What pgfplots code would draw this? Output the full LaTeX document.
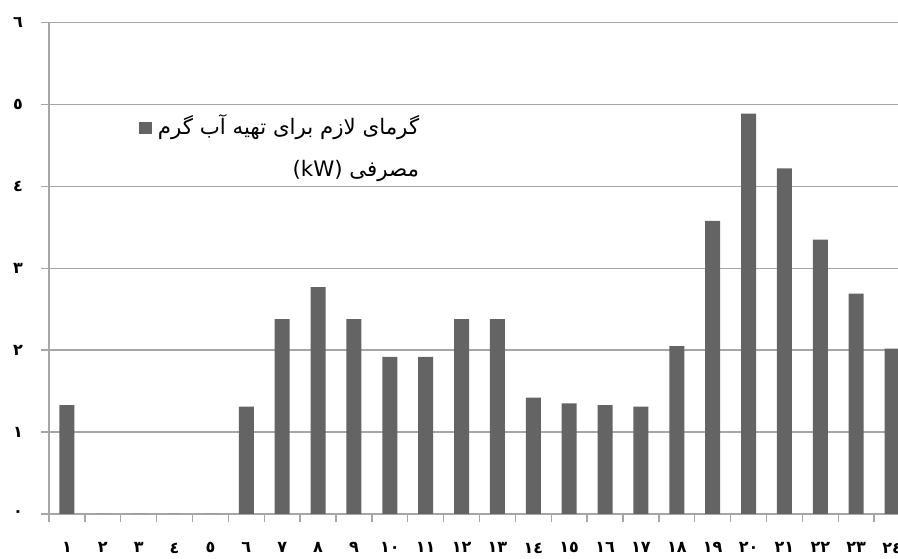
\documentclass[border=0pt]{standalone}
\usepackage{fontspec}
\usepackage{pgfplots}
\pgfplotsset{compat=1.18}
\TeXXeTstate=1
\newfontfamily\arabicfont[Script=Arabic]{DejaVu Sans}
\definecolor{barfill}{HTML}{646464}
\definecolor{gridgray}{HTML}{A6A6A6}

% hourly heat demand for domestic hot water (kW)
\pgfplotstableread{
hour demand
1  1.33
2  0
3  0
4  0
5  0
6  1.31
7  2.38
8  2.77
9  2.38
10 1.92
11 1.92
12 2.38
13 2.38
14 1.42
15 1.35
16 1.33
17 1.31
18 2.05
19 3.58
20 4.89
21 4.22
22 3.35
23 2.69
24 2.02
}\demandtable

\begin{document}
\begin{tikzpicture}[x=0.75pt,y=0.75pt]
\useasboundingbox (0,0) rectangle (898,559);
\clip (0,0) rectangle (898,559);
\begin{axis}[
  at={(36.75pt,33.75pt)}, anchor=south west,
  scale only axis, width=645.75pt, height=368.5pt,
  xmin=0.5, xmax=24.5, ymin=0, ymax=6,
  ybar, bar width=0.42,
  axis lines*=left,
  axis line style={gridgray, line width=1.2pt},
  ymajorgrids, grid style={gridgray, line width=1.2pt},
  tick align=outside,
  xtick={1,...,24}, major x tick style={draw=none},
  minor xtick={0.5,1.5,...,24.5},
  minor x tick style={gridgray, line width=1pt},
  minor tick length=6pt,
  ytick={0,...,6},
  major y tick style={gridgray, line width=1.2pt},
  major tick length=6pt,
  xticklabels={١,٢,٣,٤,٥,٦,٧,٨,٩,١٠,١١,١٢,١٣,١٤,١٥,١٦,١٧,١٨,١٩,٢٠,٢١,٢٢,٢٣,٢٤},
  yticklabels={٠,١,٢,٣,٤,٥,٦},
  xticklabel style={font=\arabicfont\bfseries\fontsize{12}{14}\selectfont, yshift=-12pt},
  yticklabel style={font=\arabicfont\bfseries\fontsize{12}{14}\selectfont, xshift=-10pt},
  legend style={draw=none, fill=none, at={(axis cs:10.9,4.91)}, anchor=north east,
    font=\arabicfont\fontsize{16}{19}\selectfont, inner sep=0pt},
  legend image code/.code={\fill[barfill] (-2.5pt,-6pt) rectangle (7.25pt,3pt);
    \path (9.5pt,0pt);},
]
\addplot[fill=barfill, draw=none] table[x=hour, y=demand] {\demandtable};
\addlegendentry{\begin{tabular}[t]{@{}r@{}}\beginR گرمای  لازم برای تهیه آب گرم\endR\\[12pt]\beginR مصرفی \beginL(kW)\endL\endR\end{tabular}}
\end{axis}
\end{tikzpicture}
\end{document}
